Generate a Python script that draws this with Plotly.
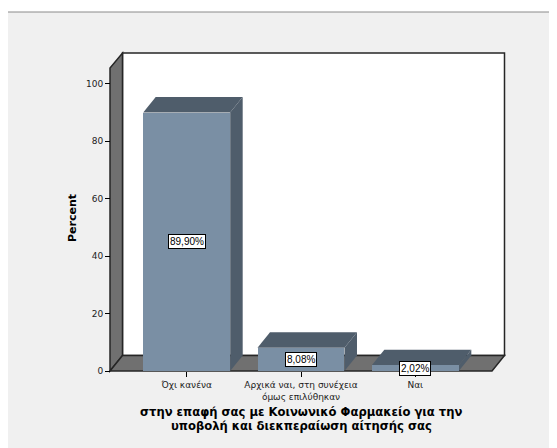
import plotly.graph_objects as go

# ---- data ----
categories = ["Όχι κανένα", "Αρχικά ναι, στη συνέχεια<br>όμως επιλύθηκαν", "Ναι"]
percent = [89.90, 8.08, 2.02]
y_ticks = [0, 20, 40, 60, 80, 100]
x_title_lines = ["στην επαφή σας με Κοινωνικό Φαρμακείο για την",
                 "υποβολή και διεκπεραίωση αίτησής σας"]
y_title = "Percent"

# ---- layout geometry (screen pixels of the reference) ----
OFF = 8                      # page body margin
W, H = 557 - OFF, 448 - OFF  # figure size
L, R, T, B = 100, 515, 45, 378   # plot area in screen px
SX = 114.3          # px per category
SY = 2.875          # px per percent
X0_PX = 186.7       # screen px of first category
Y0_PX = 371         # screen px of value 0
AXIS_X_PX = 110     # front-left edge
FRONT_R_PX = 492    # front-right edge of floor
DX_PX, DY_PX = 12.5, 15.5
TOP_FRONT_PX = 68
TOP_BACK_PX = 53

PW, PH = R - L, B - T
xr0 = -(X0_PX - L) / SX
xr1 = xr0 + PW / SX
yr0 = -(B - Y0_PX) / SY
yr1 = yr0 + PH / SY

def dx(px):
    return xr0 + (px - L) / SX

def dy(py):
    return yr0 + (B - py) / SY

def px2paper(px):
    return (px - L) / PW

def py2paper(py):
    return (B - py) / PH

ddx = DX_PX / SX
ddy = DY_PX / SY
bw = 0.761

xl = dx(AXIS_X_PX)
xr_front = dx(FRONT_R_PX)
y_top = dy(TOP_BACK_PX)
y_top_front = dy(TOP_FRONT_PX)

FRONT = "#7A8FA4"
DARK = "#4F5D6B"
WALL = "#707070"
EDGE = "#262626"
FONT = "Liberation Sans, Arial"
WFONT = "DejaVu Sans, Verdana"

shapes = []
# outer frame
shapes.append(dict(type="rect", xref="paper", yref="paper",
                   x0=px2paper(7), x1=px2paper(640), y0=py2paper(12), y1=py2paper(560),
                   fillcolor="#F0F0F0", line=dict(color="#8A8A8A", width=1), layer="below"))
# back wall
shapes.append(dict(type="rect", xref="x", yref="y",
                   x0=xl + ddx, x1=xr_front + ddx, y0=ddy, y1=y_top,
                   fillcolor="white", line=dict(color=EDGE, width=1.5), layer="below"))
# left wall
shapes.append(dict(type="path", xref="x", yref="y",
                   path=f"M{xl},0 L{xl},{y_top_front} L{xl+ddx},{y_top} L{xl+ddx},{ddy} Z",
                   fillcolor=WALL, line=dict(color=EDGE, width=1.5), layer="below"))
# floor
shapes.append(dict(type="path", xref="x", yref="y",
                   path=f"M{xl},0 L{xl+ddx},{ddy} L{xr_front+ddx},{ddy} L{xr_front},0 Z",
                   fillcolor=WALL, line=dict(color=EDGE, width=1.5), layer="below"))
# 3D faces of bars
for i, v in enumerate(percent):
    x0b, x1b = i - bw / 2, i + bw / 2
    shapes.append(dict(type="path", xref="x", yref="y",
                       path=f"M{x1b},0 L{x1b+ddx},{ddy} L{x1b+ddx},{v+ddy} L{x1b},{v} Z",
                       fillcolor=DARK, line=dict(width=0), layer="below"))
    shapes.append(dict(type="path", xref="x", yref="y",
                       path=f"M{x0b},{v} L{x0b+ddx},{v+ddy} L{x1b+ddx},{v+ddy} L{x1b},{v} Z",
                       fillcolor=DARK, line=dict(width=0), layer="below"))

fig = go.Figure()
fig.add_trace(go.Bar(x=list(range(len(categories))), y=percent, width=bw,
                     marker=dict(color=FRONT, line=dict(width=0)),
                     hoverinfo="skip"))

annotations = []
for i, v in enumerate(percent):
    annotations.append(dict(x=i, y=v / 2, xref="x", yref="y",
                            xanchor="center", yanchor="middle",
                            text=f"{v:.2f}%".replace(".", ","), showarrow=False,
                            font=dict(family=FONT, size=10, color="black"),
                            bgcolor="white", bordercolor="black", borderwidth=1, borderpad=1))
annotations.append(dict(x=px2paper(73), y=py2paper(218), xref="paper", yref="paper",
                        xanchor="center", yanchor="middle",
                        text=f"<b>{y_title}</b>", textangle=-90, showarrow=False,
                        font=dict(family=WFONT, size=11, color="black")))
for k, line in enumerate(x_title_lines):
    annotations.append(dict(x=px2paper(301), y=py2paper(412 + 14 * k), xref="paper", yref="paper",
                            xanchor="center", yanchor="middle",
                            text=f"<b>{line}</b>", showarrow=False,
                            font=dict(family=WFONT, size=11.6, color="black")))

fig.update_layout(
    width=W, height=H,
    margin=dict(l=L - OFF, r=W - (R - OFF), t=T - OFF, b=H - (B - OFF), pad=0),
    paper_bgcolor="white", plot_bgcolor="rgba(0,0,0,0)",
    showlegend=False, shapes=shapes, annotations=annotations,
    bargap=0,
    xaxis=dict(range=[xr0, xr1], tickvals=list(range(len(categories))), ticktext=categories,
               anchor="free", position=py2paper(Y0_PX),
               ticks="outside", ticklen=5, tickcolor="black", tickwidth=1,
               showgrid=False, zeroline=False, showline=False,
               tickfont=dict(family=WFONT, size=9, color="#222222"),
               fixedrange=True),
    yaxis=dict(range=[yr0, yr1], tickvals=y_ticks,
               anchor="free", position=px2paper(AXIS_X_PX),
               ticks="outside", ticklen=5, tickcolor="black", tickwidth=1,
               showgrid=False, zeroline=False, showline=False,
               tickfont=dict(family=WFONT, size=9, color="#222222"),
               fixedrange=True),
)

fig.write_html("out.html")
